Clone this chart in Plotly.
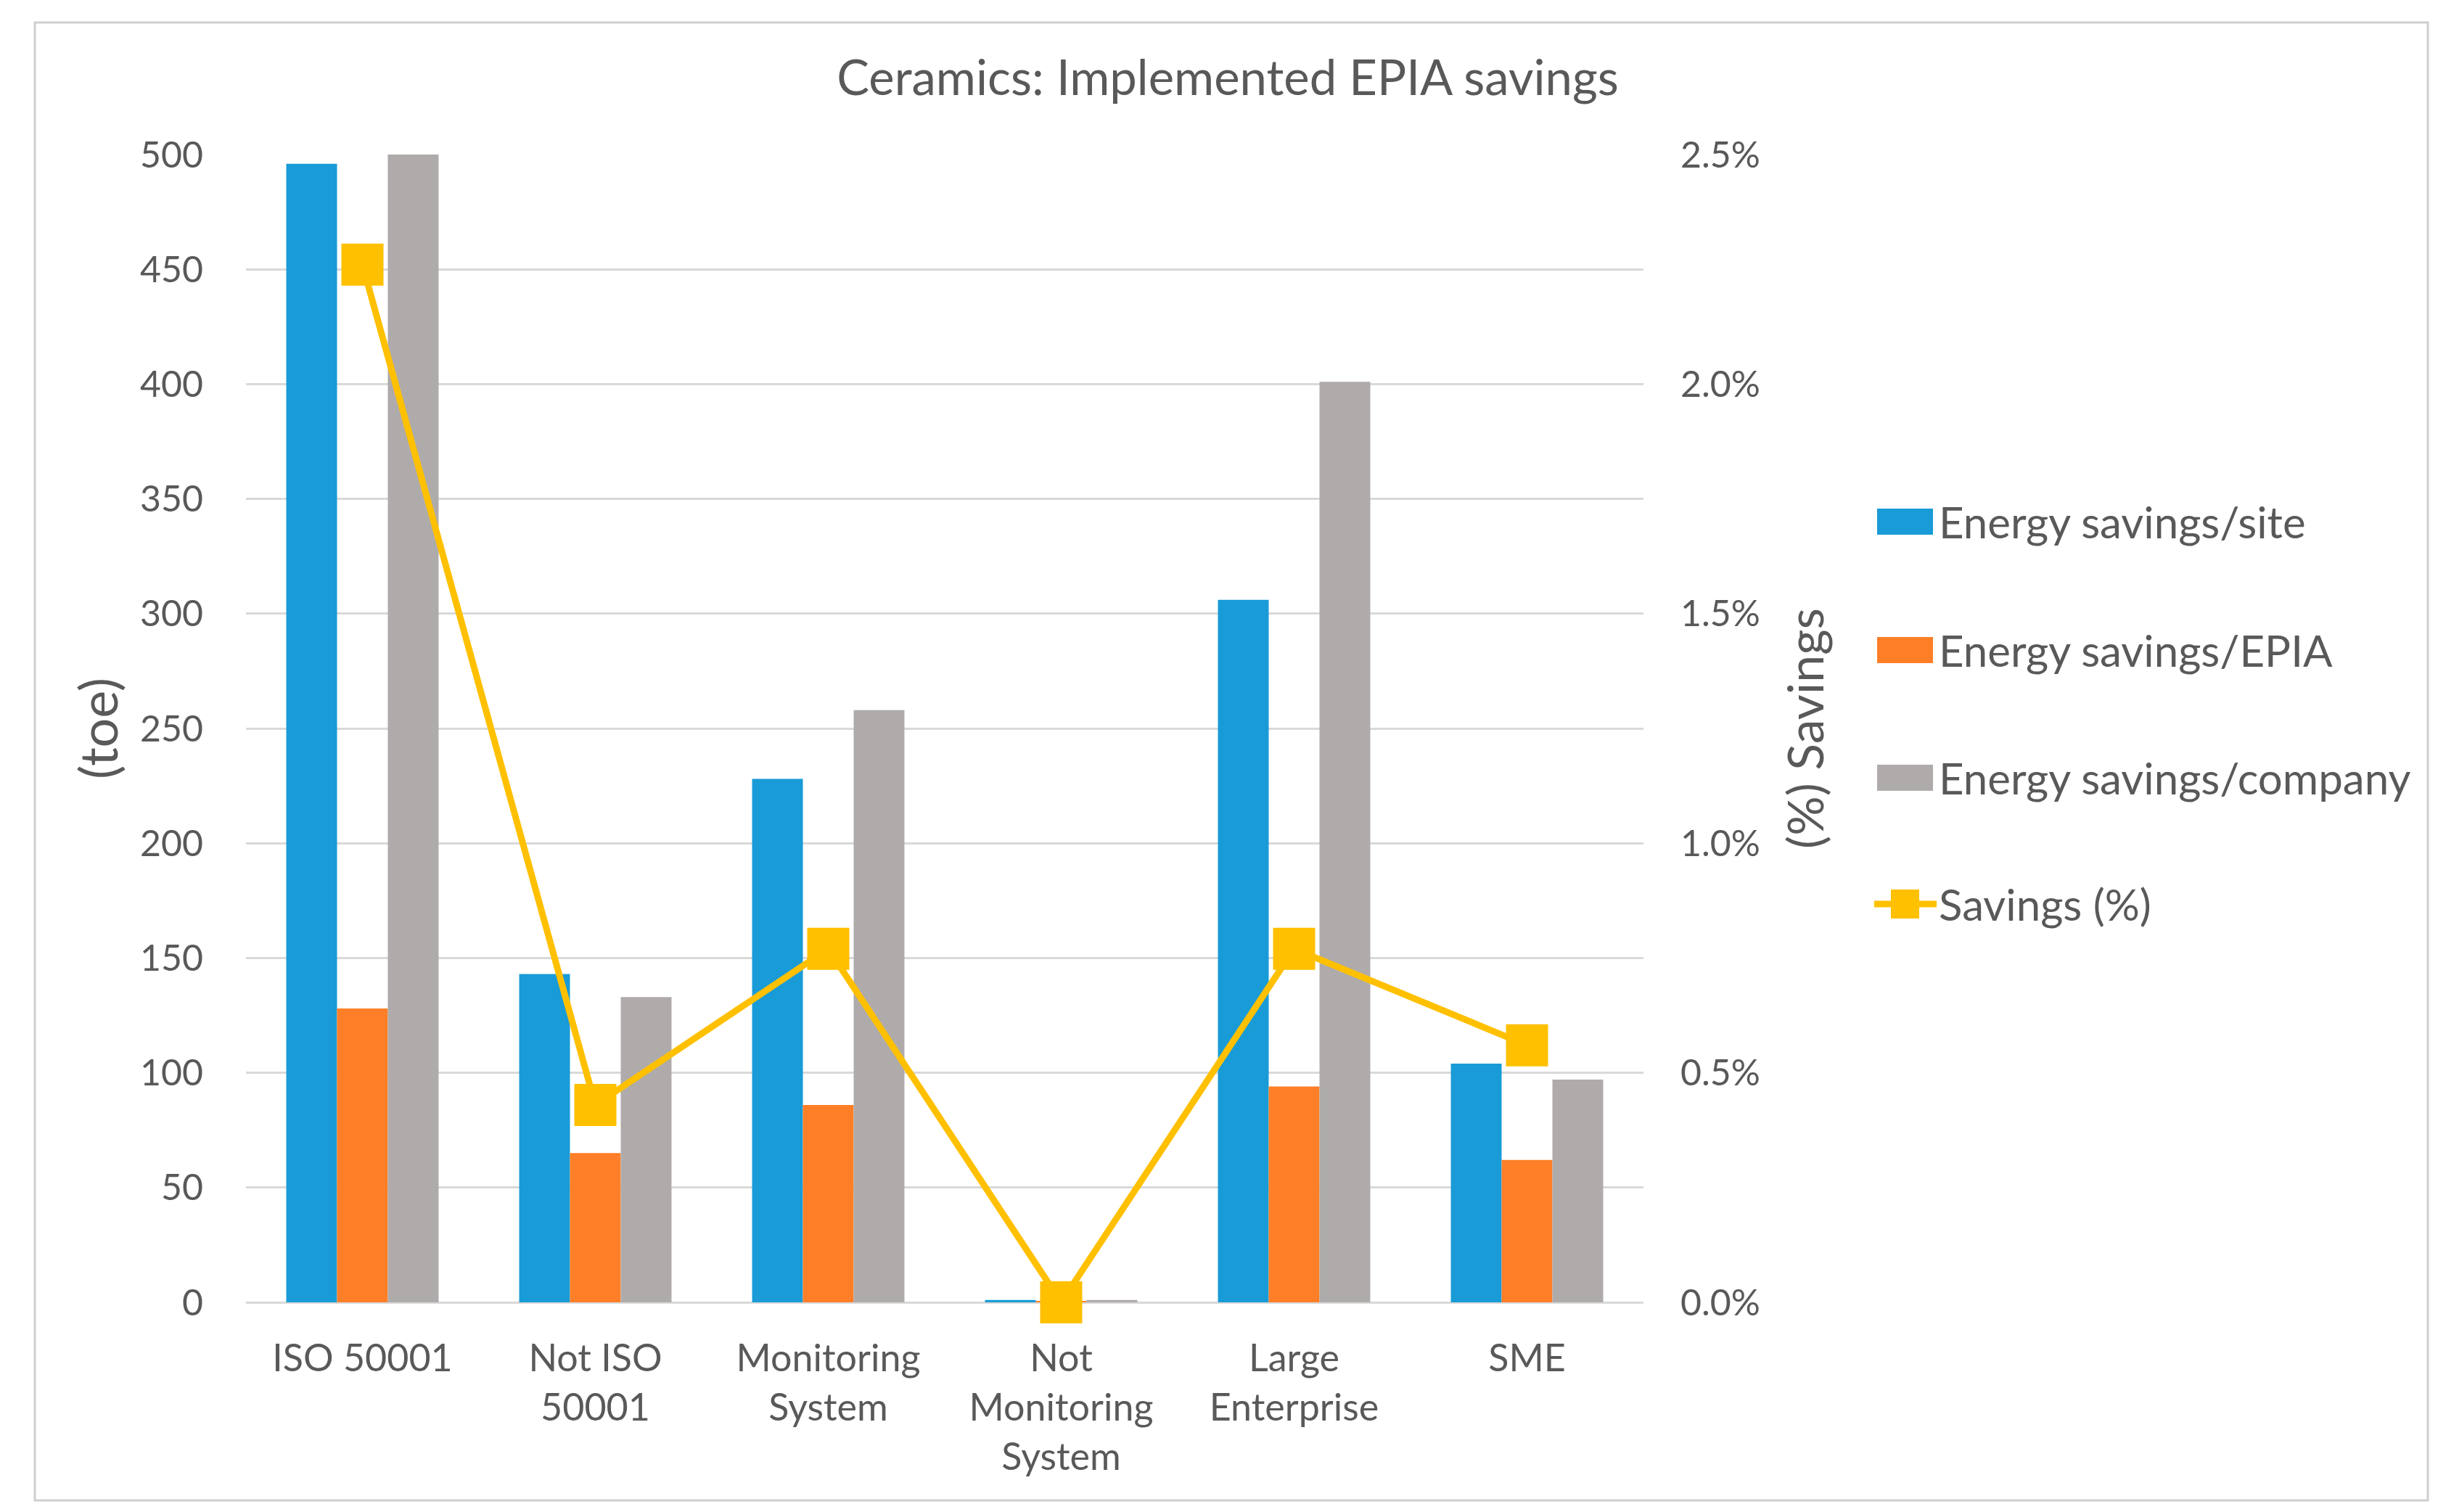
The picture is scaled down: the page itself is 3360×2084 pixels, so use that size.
import plotly.graph_objects as go

categories = ["ISO 50001", "Not ISO<br>50001", "Monitoring<br>System",
              "Not<br>Monitoring<br>System", "Large<br>Enterprise", "SME"]
site = [496, 143, 228, 1, 306, 104]
epia = [128, 65, 86, 0.5, 94, 62]
company = [500, 133, 258, 1, 401, 97]
savings_pct = [0.0226, 0.0043, 0.0077, 0.0, 0.0077, 0.0056]

bar_names = ["Energy savings/site", "Energy savings/EPIA", "Energy savings/company"]
line_name = "Savings (%)"
bar_colors = ["#189BD7", "#FE7F27", "#AFABAB"]
line_color = "#FFC000"

FONT = "Lato"
TXT = "#595959"

# figure geometry (pixels)
FW, FH = 3360, 2084
ML, MR, MT, MB = 331, 1103, 205, 297
PW, PH = FW - ML - MR, FH - MT - MB


def px(X):
    return (X - ML) / PW


def py(Y):
    return (FH - MB - Y) / PH


fig = go.Figure()
for name, vals, col in zip(bar_names, [site, epia, company], bar_colors):
    fig.add_trace(go.Bar(x=categories, y=vals, name=name, marker_color=col,
                         marker_line_width=0, showlegend=False))
fig.add_trace(go.Scatter(x=categories, y=savings_pct, name=line_name,
                         mode="lines+markers", yaxis="y2", showlegend=False,
                         line=dict(color=line_color, width=9),
                         marker=dict(symbol="square", size=58, color=line_color),
                         cliponaxis=False))

# custom legend (large swatches like the original)
shapes = []
annotations = []
leg_y = [711, 888, 1064]
for yy, name, col in zip(leg_y, bar_names, bar_colors):
    shapes.append(dict(type="rect", xref="paper", yref="paper",
                       x0=px(2579), x1=px(2656), y0=py(yy + 18), y1=py(yy - 18),
                       fillcolor=col, line=dict(width=0)))
    annotations.append(dict(text=name, xref="paper", yref="paper",
                            x=px(2662), y=py(yy), xanchor="left", yanchor="middle",
                            showarrow=False, font=dict(size=60, color=TXT, family=FONT)))
ly = 1238
shapes.append(dict(type="line", xref="paper", yref="paper",
                   x0=px(2575), x1=px(2661), y0=py(ly), y1=py(ly),
                   line=dict(color=line_color, width=9)))
shapes.append(dict(type="rect", xref="paper", yref="paper",
                   x0=px(2598), x1=px(2637), y0=py(ly + 20), y1=py(ly - 20),
                   fillcolor=line_color, line=dict(width=0)))
annotations.append(dict(text=line_name, xref="paper", yref="paper",
                        x=px(2662), y=py(ly), xanchor="left", yanchor="middle",
                        showarrow=False, font=dict(size=60, color=TXT, family=FONT)))

# outer frame
shapes.append(dict(type="rect", xref="paper", yref="paper",
                   x0=px(40), x1=px(3338), y0=py(2060), y1=py(23),
                   line=dict(color="#CFCFCF", width=3), layer="below"))

fig.update_layout(
    width=FW, height=FH,
    margin=dict(l=ML, r=MR, t=MT, b=MB, autoexpand=False),
    paper_bgcolor="white", plot_bgcolor="white",
    font=dict(family=FONT, color=TXT, size=52),
    barmode="group", bargap=0.346, bargroupgap=0,
    showlegend=False,
    title=dict(text="Ceramics: Implemented EPIA savings", xref="container",
               yref="container", x=1684 / FW, y=1 - 100 / FH, xanchor="center",
               yanchor="middle", font=dict(size=67, color=TXT, family=FONT)),
    xaxis=dict(range=[-0.5, 5.5], showgrid=False, showline=False,
               tickfont=dict(size=52, color=TXT), ticks="outside",
               ticklen=32, tickcolor="rgba(0,0,0,0)", automargin=False),
    yaxis=dict(range=[0, 500], dtick=50, showgrid=True, gridcolor="#D9D9D9",
               gridwidth=3, zeroline=True, zerolinecolor="#D9D9D9",
               zerolinewidth=3, showline=False, automargin=False,
               tickfont=dict(size=50, color=TXT), ticks="outside",
               ticklen=48, tickcolor="rgba(0,0,0,0)",
               title=dict(text="(toe)", standoff=6,
                          font=dict(size=72, color=TXT, family=FONT))),
    yaxis2=dict(range=[0, 0.025], dtick=0.005, tickformat=".1%",
                overlaying="y", side="right", showgrid=False, zeroline=False,
                showline=False, automargin=False,
                tickfont=dict(size=50, color=TXT),
                ticks="outside", ticklen=40, tickcolor="rgba(0,0,0,0)",
                title=dict(text="(%) Savings", standoff=40,
                           font=dict(size=68, color=TXT, family=FONT))),
    shapes=shapes,
    annotations=annotations,
)

fig.write_html("out.html")
